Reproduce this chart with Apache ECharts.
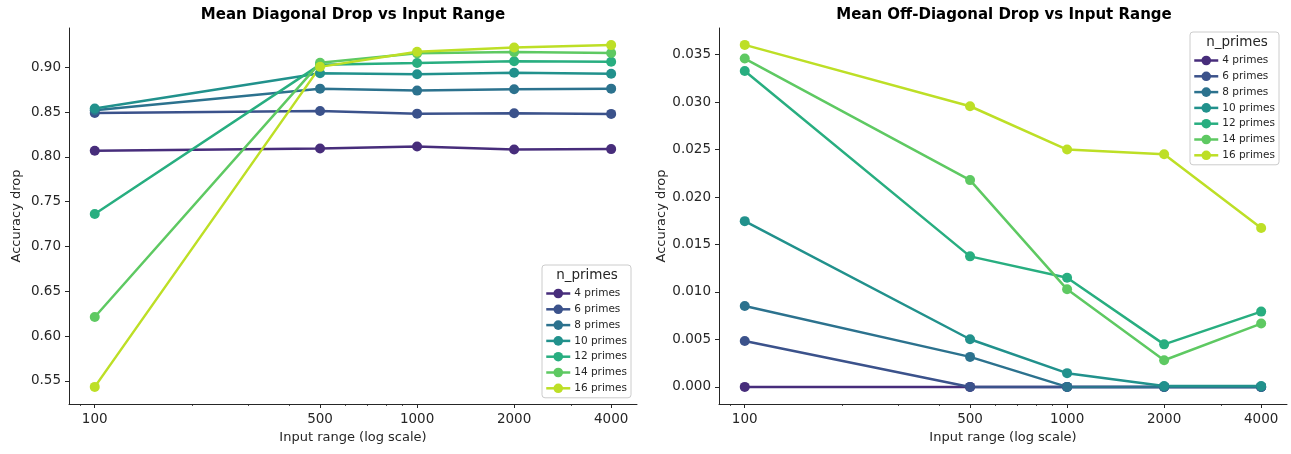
<!DOCTYPE html>
<html>
<head>
<meta charset="utf-8">
<script src="https://cdn.jsdelivr.net/npm/echarts@6/dist/echarts.min.js"></script>
<style>
  html, body { margin: 0; padding: 0; background: #fff; }
  #chart { width: 1291px; height: 454px; }
</style>
</head>
<body>
<div id="chart"></div>
<script>
// x values (input range) and series names
const inputRange = [100, 500, 1000, 2000, 4000];
const primeNames = ['4 primes', '6 primes', '8 primes', '10 primes', '12 primes', '14 primes', '16 primes'];
const colors = ['#472d7b', '#3b528b', '#2c728e', '#21918c', '#28ae80', '#5ec962', '#bddf26'];

// mean diagonal drop, one array per n_primes
const diag4 = [0.8068, 0.8094, 0.8116, 0.8083, 0.8087];
const diag6 = [0.8490, 0.8513, 0.8483, 0.8487, 0.8480];
const diag8 = [0.8520, 0.8762, 0.8740, 0.8755, 0.8762];
const diag10 = [0.8540, 0.8933, 0.8922, 0.8940, 0.8929];
const diag12 = [0.7363, 0.9030, 0.9048, 0.9067, 0.9062];
const diag14 = [0.6212, 0.9050, 0.9156, 0.9170, 0.9159];
const diag16 = [0.5432, 0.9005, 0.9174, 0.9222, 0.9248];

// mean off-diagonal drop
const off4 = [0, 0, 0, 0, 0];
const off6 = [0.00483, 0, 0, 0, 0];
const off8 = [0.00852, 0.00316, 0, 0, 0];
const off10 = [0.01746, 0.00502, 0.00145, 0.0001, 0.0001];
const off12 = [0.03328, 0.01375, 0.01150, 0.00448, 0.00793];
const off14 = [0.03458, 0.02178, 0.01028, 0.00281, 0.00667];
const off16 = [0.03602, 0.02956, 0.02500, 0.02451, 0.01673];

// tick labels
const xTicks = [100, 500, 1000, 2000, 4000];
const xMinorTicks = [90, 200, 300, 400, 600, 700, 800, 900, 3000];
const diagTicks = [0.55, 0.60, 0.65, 0.70, 0.75, 0.80, 0.85, 0.90];
const offTicks = [0, 0.005, 0.010, 0.015, 0.020, 0.025, 0.030, 0.035];

const diagData = [diag4, diag6, diag8, diag10, diag12, diag14, diag16];
const offData = [off4, off6, off8, off10, off12, off14, off16];

const ink = '#262626';
const font = 'DejaVu Sans';

const chart = echarts.init(document.getElementById('chart'), null, {renderer: 'canvas'});

const xMajor = (gi) => ({
    type: 'log', logBase: 10, gridIndex: gi, position: 'bottom',
    min: 83.2, max: 4811,
    splitLine: {show: false},
    axisLine: {onZero: false, lineStyle: {color: ink, width: 1}},
    axisTick: {customValues: xTicks, length: 4, lineStyle: {color: ink}},
    axisLabel: {customValues: xTicks, color: ink, fontSize: 13.5, fontFamily: font, margin: 8,
        formatter: (v) => String(Math.round(v))},
    name: 'Input range (log scale)', nameLocation: 'middle', nameGap: 27,
    nameTextStyle: {color: ink, fontSize: 13, fontFamily: font}
});
const xMinor = (gi) => ({
    type: 'log', logBase: 10, gridIndex: gi, position: 'bottom',
    min: 83.2, max: 4811,
    splitLine: {show: false},
    axisLine: {show: false, onZero: false},
    axisTick: {customValues: xMinorTicks, length: 2, lineStyle: {color: ink, width: 0.8}},
    axisLabel: {show: false}
});
const yAxis = (gi, min, max, ticks, fmt) => ({
    type: 'value', gridIndex: gi, min: min, max: max,
    splitLine: {show: false},
    axisLine: {show: true, onZero: false, lineStyle: {color: ink, width: 1}},
    axisTick: {show: true, customValues: ticks, length: 4, lineStyle: {color: ink}},
    axisLabel: {customValues: ticks, color: ink, fontSize: 13.5, fontFamily: font, margin: 8,
        formatter: (v) => v.toFixed(fmt)},
    name: 'Accuracy drop', nameLocation: 'middle', nameGap: 46, nameRotate: 90,
    nameTextStyle: {color: ink, fontSize: 13, fontFamily: font}
});

const series = [];
primeNames.forEach((name, i) => {
    series.push({
        name: name, type: 'line', xAxisIndex: 0, yAxisIndex: 0,
        symbol: 'circle', symbolSize: 10, color: colors[i],
        lineStyle: {width: 2.5}, itemStyle: {color: colors[i]},
        data: inputRange.map((x, k) => [x, diagData[i][k]])
    });
    series.push({
        name: name, type: 'line', xAxisIndex: 2, yAxisIndex: 1,
        symbol: 'circle', symbolSize: 10, color: colors[i],
        lineStyle: {width: 2.5}, itemStyle: {color: colors[i]},
        data: inputRange.map((x, k) => [x, offData[i][k]])
    });
});

const legend = (left, top) => ({
    data: primeNames, orient: 'vertical', left: left, top: top,
    padding: [23, 4, 4, 3],
    backgroundColor: 'rgba(255,255,255,0.8)',
    borderColor: '#cccccc', borderWidth: 1, borderRadius: 3,
    itemWidth: 24, itemHeight: 12, itemGap: 3.8 + 1,
    lineStyle: {width: 2.5},
    textStyle: {color: ink, fontSize: 10.5, fontFamily: font, padding: [0, 0, 0, -1]},
    selectedMode: false
});

chart.setOption({
    animation: false,
    backgroundColor: '#fff',
    title: [
        {text: 'Mean Diagonal Drop vs Input Range', left: 353, top: 8, textAlign: 'center', padding: 0,
            textStyle: {fontSize: 15, fontWeight: 'bold', color: '#000', fontFamily: font}},
        {text: 'Mean Off-Diagonal Drop vs Input Range', left: 1004, top: 8, textAlign: 'center', padding: 0,
            textStyle: {fontSize: 15, fontWeight: 'bold', color: '#000', fontFamily: font}},
        {text: 'n_primes', left: 587, top: 268, textAlign: 'center', padding: 0,
            textStyle: {fontSize: 13.5, fontWeight: 'normal', color: ink, fontFamily: font}},
        {text: 'n_primes', left: 1237, top: 35, textAlign: 'center', padding: 0,
            textStyle: {fontSize: 13.5, fontWeight: 'normal', color: ink, fontFamily: font}}
    ],
    grid: [
        {left: 69, top: 28, width: 568, height: 376},
        {left: 719, top: 28, width: 568, height: 376}
    ],
    xAxis: [xMajor(0), xMinor(0), xMajor(1), xMinor(1)],
    yAxis: [
        yAxis(0, 0.5241, 0.9439, diagTicks, 2),
        yAxis(1, -0.0018, 0.0378, offTicks, 3)
    ],
    legend: [legend(542, 265), legend(1190, 32)],
    series: series
});
</script>
</body>
</html>
